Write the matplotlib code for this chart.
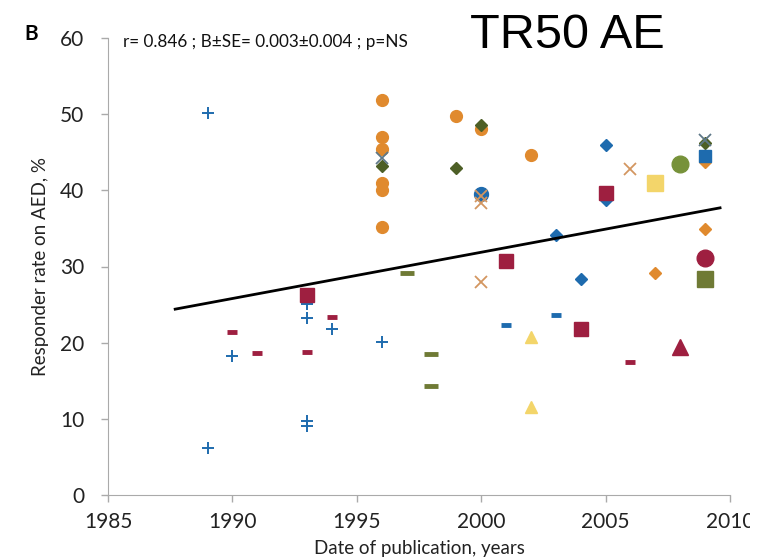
import matplotlib.pyplot as plt
from matplotlib.transforms import Bbox, TransformedBbox

# data (year of publication, responder rate %)
blue_plus_x = [1989, 1989, 1990, 1993, 1993, 1993, 1993, 1994, 1996]
blue_plus_y = [50.1, 6.2, 18.2, 25.1, 23.2, 9.7, 9.0, 21.8, 20.1]
maroon_dash_x = [1990, 1991, 1993, 1994, 2006]
maroon_dash_y = [21.4, 18.6, 18.8, 23.4, 17.4]
maroon_sq_x = [1993, 2001, 2004, 2005]
maroon_sq_y = [26.2, 30.7, 21.8, 39.7]
olive_dash_x = [1997, 1998, 1998]
olive_dash_y = [29.1, 18.5, 14.3]
blue_dash_x = [2001, 2003]
blue_dash_y = [22.3, 23.6]
yellow_tri_x = [2002, 2002]
yellow_tri_y = [20.7, 11.6]
maroon_tri_x = [2008]
maroon_tri_y = [19.4]
orange_circ_x = [1996, 1996, 1996, 1996, 1996, 1996, 1999, 2000, 2002]
orange_circ_y = [51.9, 47.0, 45.4, 40.9, 40.1, 35.2, 49.8, 48.1, 44.7]
green_dia_x = [1996, 1999, 2000, 2009]
green_dia_y = [43.2, 42.9, 48.6, 46.2]
blue_circ_x = [2000]
blue_circ_y = [39.5]
grey_x_x = [1996, 2009]
grey_x_y = [44.3, 46.6]
orange_x_x = [2000, 2000, 2000, 2006]
orange_x_y = [39.3, 38.4, 27.9, 42.8]
blue_dia_x = [2003, 2004, 2005, 2005]
blue_dia_y = [34.2, 28.4, 45.9, 38.7]
orange_dia_x = [2007, 2009, 2009]
orange_dia_y = [29.2, 43.7, 34.9]
blue_sq_x = [2009]
blue_sq_y = [44.5]
yellow_sq_x = [2007]
yellow_sq_y = [40.9]
green_circ_x = [2008]
green_circ_y = [43.5]
maroon_circ_x = [2009]
maroon_circ_y = [31.1]
olive_sq_x = [2009]
olive_sq_y = [28.4]

# regression line ends
fit_x = [1987.7, 2009.6]
fit_y = [24.4, 37.7]

orange = '#E08A2E'
blue = '#1E6BAE'
maroon = '#9E1F40'
olive = '#6F7A35'
dkgreen = '#4D5F26'
yellow = '#F3D56A'
green = '#77923A'
tan = '#D39660'
greyblue = '#5E7888'

plt.rcParams['font.family'] = ['Lato', 'DejaVu Sans']

fig = plt.figure(figsize=(7.64, 5.6), dpi=100)
ax = fig.add_axes([108 / 764, 65 / 560, 622 / 764, 457 / 560])

def pts(x, y, marker, color, size, **kw):
    ax.plot(x, y, linestyle='none', marker=marker, color=color,
            markersize=size, **kw)

pts(blue_plus_x, blue_plus_y, '+', blue, 9, markeredgewidth=1.4)
pts(maroon_dash_x, maroon_dash_y, '_', maroon, 7, markeredgewidth=3.5)
pts(olive_dash_x, olive_dash_y, '_', olive, 10, markeredgewidth=3.5)
pts(blue_dash_x, blue_dash_y, '_', blue, 7, markeredgewidth=3.5)
pts(orange_circ_x, orange_circ_y, 'o', orange, 8.5)
pts(green_dia_x, green_dia_y, 'D', dkgreen, 6)
pts(blue_circ_x, blue_circ_y, 'o', blue, 10)
pts(grey_x_x, grey_x_y, 'x', greyblue, 8, markeredgewidth=1.3)
pts(orange_x_x, orange_x_y, 'x', tan, 9, markeredgewidth=1.3)
pts(blue_dia_x, blue_dia_y, 'D', blue, 6)
pts(orange_dia_x, orange_dia_y, 'D', orange, 6)
pts(maroon_sq_x, maroon_sq_y, 's', maroon, 10)
pts(blue_sq_x, blue_sq_y, 's', blue, 9)
pts(yellow_sq_x, yellow_sq_y, 's', yellow, 11)
pts(yellow_tri_x, yellow_tri_y, '^', yellow, 9)
pts(maroon_tri_x, maroon_tri_y, '^', maroon, 11)
pts(green_circ_x, green_circ_y, 'o', green, 12)
pts(maroon_circ_x, maroon_circ_y, 'o', maroon, 12)
pts(olive_sq_x, olive_sq_y, 's', olive, 11)

ax.plot(fit_x, fit_y, color='black', linewidth=2)

ax.set_xlim(1985, 2010)
ax.set_ylim(0, 60)
ax.set_xticks([1985, 1990, 1995, 2000, 2005, 2010])
ax.set_yticks([0, 10, 20, 30, 40, 50, 60])
for s in ['top', 'right']:
    ax.spines[s].set_visible(False)
for s in ['left', 'bottom']:
    ax.spines[s].set_color('#aaaaaa')
ax.tick_params(colors='#aaaaaa', labelcolor='#222222', labelsize=15,
               length=5, width=1)
ax.tick_params(axis='x', pad=7)
ax.tick_params(axis='y', pad=12)
ax.set_xlabel('Date of publication, years', fontsize=13.5, color='#222222',
              labelpad=6)
ax.set_ylabel('Responder rate on AED, %', fontsize=13.5, color='#222222',
              labelpad=8)

# the last tick label is cut off at the image edge in the reference
clip = TransformedBbox(Bbox([[0, 0], [750 / 764, 1]]), fig.transFigure)
for lab in ax.get_xticklabels():
    lab.set_clip_box(clip)
    lab.set_clip_on(True)

fig.text(123 / 764, 1 - 47 / 560, 'r= 0.846 ; B±SE= 0.003±0.004 ; p=NS',
         fontsize=12.3, color='#111111', va='baseline')
fig.text(470 / 764, 1 - 48 / 560, 'TR50 AE', fontsize=35,
         family='Liberation Sans', va='baseline')
fig.text(24 / 764, 1 - 40 / 560, 'B', fontsize=15, fontweight='bold',
         va='baseline')

fig.savefig('out.png', dpi=100)
